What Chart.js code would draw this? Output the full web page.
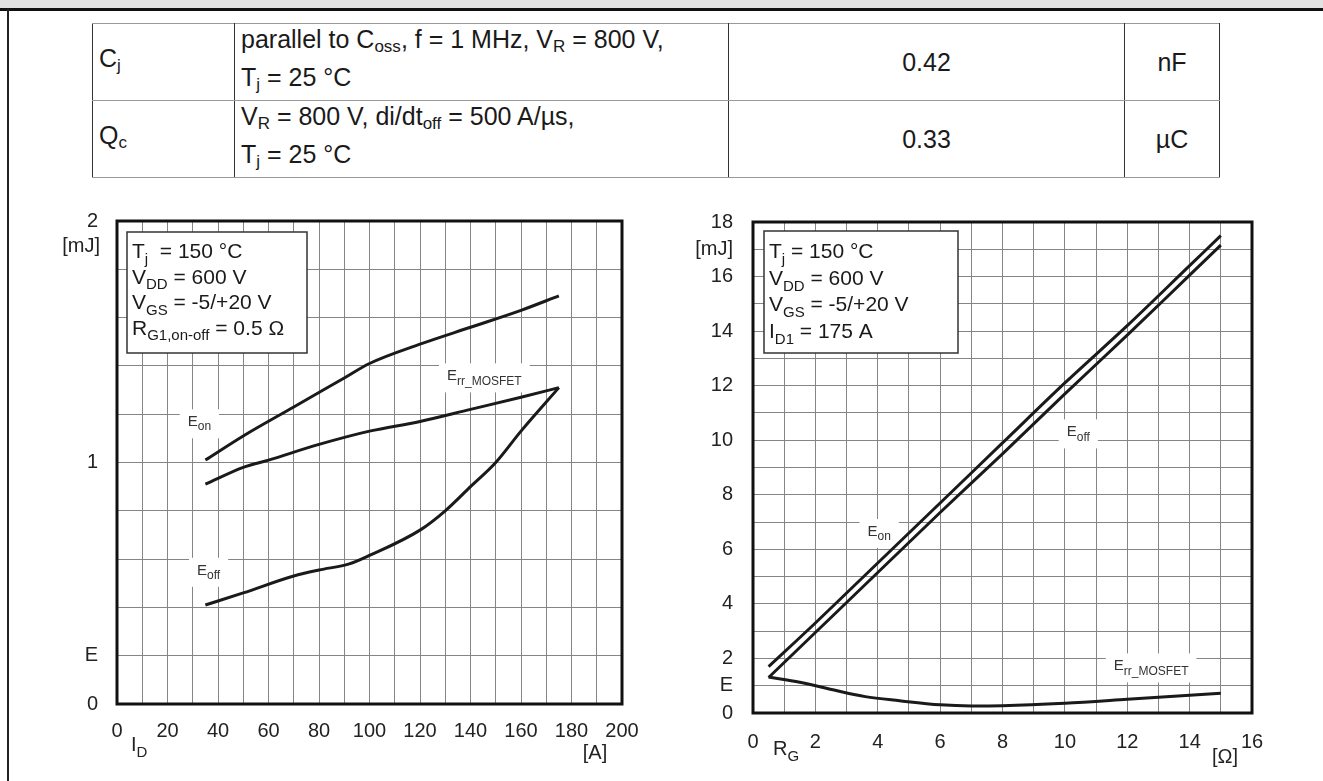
<!DOCTYPE html>
<html>
<head>
<meta charset="utf-8">
<script src="https://cdn.jsdelivr.net/npm/chart.js@4.4.0/dist/chart.umd.min.js"></script>
<style>
    body { margin: 0; width: 1323px; height: 781px; position: relative; overflow: hidden; background: #fff; font-family: "Liberation Sans", Arial, sans-serif; color: #1a1a1a; }
    .band { position: absolute; left: 0; top: 0; width: 1323px; height: 8px; background: #e2e2e2; }
    .topline { position: absolute; left: 0; top: 8px; width: 1323px; height: 3px; background: #111; }
    .leftline { position: absolute; left: 7px; top: 9px; width: 2px; height: 772px; background: #222; }
    #spec { position: absolute; left: 92px; top: 23px; border-collapse: collapse; font-size: 25px; }
    #spec td { border-left: 1.5px solid #333; border-right: 1.5px solid #333; border-top: 1px solid #999; border-bottom: 1px solid #999; padding: 0 0 0 6px; line-height: 30px; }
    #spec tr { height: 66px; }
    #spec sub { font-size: 17px; vertical-align: -4px; }
    #spec .sym { width: 135px; }
    #spec .cond { width: 487px; }
    #spec .val { width: 395px; text-align: center; padding: 0; }
    #spec .unit { width: 94px; text-align: center; padding: 0; }
    #c1 { position: absolute; left: 40px; top: 190px; }
    #c2 { position: absolute; left: 660px; top: 190px; }
</style>
</head>
<body>
<div class="band"></div>
<div class="topline"></div>
<div class="leftline"></div>

<table id="spec">
    <tr>
        <td class="sym">C<sub>j</sub></td>
        <td class="cond">parallel to C<sub>oss</sub>, f = 1 MHz, V<sub>R</sub> = 800 V,<br>T<sub>j</sub> = 25 °C</td>
        <td class="val">0.42</td>
        <td class="unit">nF</td>
    </tr>
    <tr>
        <td class="sym">Q<sub>c</sub></td>
        <td class="cond">V<sub>R</sub> = 800 V, di/dt<sub>off</sub> = 500 A/µs,<br>T<sub>j</sub> = 25 °C</td>
        <td class="val">0.33</td>
        <td class="unit">µC</td>
    </tr>
</table>

<canvas id="c1" width="620" height="591"></canvas>
<canvas id="c2" width="640" height="591"></canvas>

<script>
// --- left chart: E vs I_D ---
const idOn = [35, 50, 70, 90, 100, 120, 140, 160, 175];
const eOnById = [1.01, 1.11, 1.23, 1.35, 1.41, 1.49, 1.56, 1.63, 1.69];
const idRr = [35, 50, 60, 80, 100, 120, 140, 160, 175];
const eRrById = [0.91, 0.98, 1.01, 1.075, 1.13, 1.17, 1.22, 1.27, 1.31];
const idOff = [35, 50, 70, 80, 92, 100, 120, 130, 140, 150, 160, 175];
const eOffById = [0.41, 0.46, 0.53, 0.555, 0.58, 0.615, 0.72, 0.80, 0.90, 1.0, 1.13, 1.31];

// --- right chart: E vs R_G ---
const rgLines = [0.5, 2, 4, 6, 8, 10, 12, 14, 15];
const eOnByRg = [1.7, 3.3, 5.5, 7.7, 9.9, 12.1, 14.2, 16.4, 17.5];
const eOffByRg = [1.3, 2.95, 5.15, 7.35, 9.5, 11.7, 13.85, 16.05, 17.15];
const rgRr = [0.5, 1.5, 2.6, 3.6, 4.7, 6, 7, 8, 10, 12, 15];
const eRrByRg = [1.32, 1.13, 0.84, 0.6, 0.45, 0.3, 0.26, 0.27, 0.36, 0.5, 0.72];

const FONT = '"Liberation Sans", Arial, sans-serif';
Chart.defaults.font.family = FONT;
Chart.defaults.color = '#222';

const toPoints = (xs, ys) => xs.map((x, i) => ({ x: x, y: ys[i] }));

// draws text where some parts are subscripts; returns width
function drawRich(ctx, parts, x, y, size, subSize) {
    let cx = x;
    parts.forEach(p => {
        const sub = p[1] === 1;
        ctx.font = (sub ? subSize : size) + 'px ' + FONT;
        ctx.fillText(p[0], cx, sub ? y + size * 0.28 : y);
        cx += ctx.measureText(p[0]).width;
    });
    return cx - x;
}

function measureRich(ctx, parts, size, subSize) {
    let w = 0;
    parts.forEach(p => {
        ctx.font = (p[1] === 1 ? subSize : size) + 'px ' + FONT;
        w += ctx.measureText(p[0]).width;
    });
    return w;
}

const decorPlugin = {
    id: 'decor',
    beforeDatasetsDraw(chart, args, opts) {
        const { ctx, chartArea: a, scales } = chart;
        ctx.save();
        ctx.textBaseline = 'alphabetic';
        ctx.textAlign = 'left';

        // white patches under curve labels, cutting the grid
        opts.curveLabels.forEach(l => {
            const px = scales.x.getPixelForValue(l.x);
            const py = scales.y.getPixelForValue(l.y);
            const w = measureRich(ctx, l.parts, 15, 12);
            ctx.fillStyle = '#fff';
            ctx.fillRect(px - 8, py - 17, w + 16, 29);
            ctx.fillStyle = '#333';
            drawRich(ctx, l.parts, px, py, 15, 12);
        });

        // thick frame
        ctx.strokeStyle = '#111';
        ctx.lineWidth = 3;
        ctx.strokeRect(a.left, a.top, a.width, a.height);

        // condition box
        const b = opts.box;
        const bx = a.left + b.dx, by = a.top + b.dy;
        ctx.fillStyle = '#fff';
        ctx.fillRect(bx, by, b.w, b.h);
        ctx.strokeStyle = '#333';
        ctx.lineWidth = 1.5;
        ctx.strokeRect(bx, by, b.w, b.h);
        ctx.fillStyle = '#1a1a1a';
        b.lines.forEach((ln, i) => {
            drawRich(ctx, ln, bx + 5, by + b.first + i * b.step, 21, 15);
        });
        ctx.restore();
    },
    afterDraw(chart, args, opts) {
        const { ctx, chartArea: a } = chart;
        ctx.save();
        ctx.fillStyle = '#222';
        opts.axisLabels.forEach(l => {
            const x = (l.from === 'right' ? a.right : a.left) + l.dx;
            const y = (l.fromY === 'top' ? a.top : a.bottom) + l.dy;
            const w = measureRich(ctx, l.parts, 20, 15);
            const left = l.align === 'center' ? x - w / 2 : (l.align === 'right' ? x - w : x);
            drawRich(ctx, l.parts, left, y, 20, 15);
        });
        ctx.restore();
    }
};

function lineSet(points) {
    return {
        data: points,
        borderColor: '#1a1a1a',
        borderWidth: 3,
        pointRadius: 0,
        fill: false,
        tension: 0.4,
        cubicInterpolationMode: 'monotone',
        borderCapStyle: 'butt'
    };
}

function makeChart(id, cfg) {
    return new Chart(document.getElementById(id), {
        type: 'line',
        data: { datasets: cfg.sets.map(lineSet) },
        options: {
            responsive: false,
            animation: false,
            devicePixelRatio: 1,
            layout: { padding: cfg.padding },
            plugins: {
                legend: { display: false },
                tooltip: { enabled: false },
                decor: cfg.decor
            },
            scales: {
                x: {
                    type: 'linear',
                    min: cfg.xMin, max: cfg.xMax,
                    border: { display: false },
                    grid: { color: '#858585', lineWidth: 1, drawTicks: false },
                    afterFit: s => { s.height = cfg.xHeight; },
                    ticks: {
                        stepSize: cfg.xStep,
                        autoSkip: false,
                        maxRotation: 0,
                        padding: cfg.xPad,
                        font: { size: 20 },
                        callback: cfg.xLabel
                    }
                },
                y: {
                    min: cfg.yMin, max: cfg.yMax,
                    border: { display: false },
                    grid: { color: '#858585', lineWidth: 1, drawTicks: false },
                    afterFit: s => { s.width = cfg.yWidth; },
                    ticks: {
                        stepSize: cfg.yStep,
                        autoSkip: false,
                        padding: cfg.yPad,
                        font: { size: 20 },
                        callback: cfg.yLabel
                    }
                }
            }
        },
        plugins: [decorPlugin]
    });
}

makeChart('c1', {
    sets: [toPoints(idOn, eOnById), toPoints(idRr, eRrById), toPoints(idOff, eOffById)],
    padding: { top: 23, right: 38, left: 0, bottom: 0 },
    xMin: 0, xMax: 200, xStep: 10, xHeight: 77, xPad: 15,
    xLabel: v => (v % 20 === 0 ? v : ''),
    yMin: 0, yMax: 2, yStep: 0.2, yWidth: 77, yPad: 19,
    yLabel: v => {
        const k = Math.round(v * 10);
        if (k % 10 === 0) return String(k / 10);
        return k === 2 ? 'E' : '';
    },
    decor: {
        curveLabels: [
            { x: 28, y: 1.15, parts: [['E'], ['on', 1]] },
            { x: 130.7, y: 1.34, parts: [['E'], ['rr_MOSFET', 1]] },
            { x: 31.7, y: 0.535, parts: [['E'], ['off', 1]] }
        ],
        box: {
            dx: 10, dy: 11, w: 180, h: 121, first: 26, step: 25.5,
            lines: [
                [['T'], ['j', 1], ['  = 150 °C']],
                [['V'], ['DD', 1], [' = 600 V']],
                [['V'], ['GS', 1], [' = -5/+20 V']],
                [['R'], ['G1,on-off', 1], [' = 0.5 Ω']]
            ]
        },
        axisLabels: [
            { from: 'left', fromY: 'top', dx: -17, dy: 31, align: 'right', parts: [['[mJ]']] },
            { from: 'left', fromY: 'bottom', dx: 14, dy: 47, align: 'left', parts: [['I'], ['D', 1]] },
            { from: 'right', fromY: 'bottom', dx: -27, dy: 55, align: 'center', parts: [['[A]']] }
        ]
    }
});

makeChart('c2', {
    sets: [toPoints(rgLines, eOnByRg), toPoints(rgLines, eOffByRg), toPoints(rgRr, eRrByRg)],
    padding: { top: 26, right: 48, left: 0, bottom: 0 },
    xMin: 0, xMax: 16, xStep: 1, xHeight: 68, xPad: 17,
    xLabel: v => (v % 2 === 0 ? v : ''),
    yMin: 0, yMax: 18, yStep: 1, yWidth: 93, yPad: 20,
    yLabel: v => {
        if (v % 2 === 0) return v;
        if (v === 1) return 'E';
        if (v === 17) return '[mJ]';
        return '';
    },
    decor: {
        curveLabels: [
            { x: 10.06, y: 10.14, parts: [['E'], ['off', 1]] },
            { x: 3.67, y: 6.49, parts: [['E'], ['on', 1]] },
            { x: 11.57, y: 1.56, parts: [['E'], ['rr_MOSFET', 1]] }
        ],
        box: {
            dx: 11, dy: 9, w: 194, h: 122, first: 27, step: 26.7,
            lines: [
                [['T'], ['j', 1], [' = 150 °C']],
                [['V'], ['DD', 1], [' = 600 V']],
                [['V'], ['GS', 1], [' = -5/+20 V']],
                [['I'], ['D1', 1], [' = 175 A']]
            ]
        },
        axisLabels: [
            { from: 'left', fromY: 'bottom', dx: 20, dy: 42, align: 'left', parts: [['R'], ['G', 1]] },
            { from: 'right', fromY: 'bottom', dx: -27, dy: 50, align: 'center', parts: [['[Ω]']] }
        ]
    }
});
</script>
</body>
</html>
